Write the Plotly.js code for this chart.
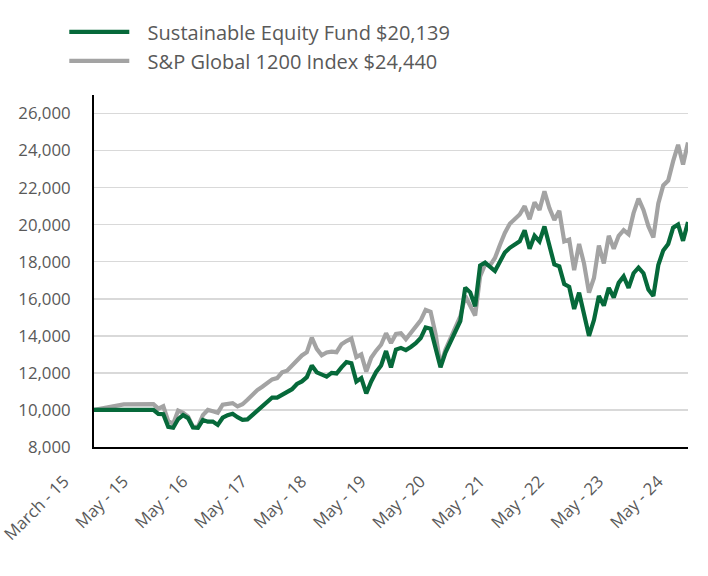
<!DOCTYPE html>
<html>
<head>
<meta charset="utf-8">
<script src="https://cdn.plot.ly/plotly-3.0.1.min.js"></script>
<style>html,body{margin:0;padding:0;background:#fff;}#chart{width:708px;height:576px;}</style>
</head>
<body>
<div id="chart"></div>
<script>
// Axis tick labels (fiscal year ends, plus inception)
const tickLabels = ["March - 15", "May - 15", "May - 16", "May - 17", "May - 18", "May - 19",
  "May - 20", "May - 21", "May - 22", "May - 23", "May - 24"];

// Position slots on the category-like x axis: inception, one interim point, then monthly May-15 .. May-24
const earlySlots = [0, 6];
const monthlyStartSlot = 12;

// Sustainable Equity Fund (growth of $10,000)
const fundEarly = [10000, 9980];
const fundMonthly = [
  10000, 9790, 9770, 9090, 9040, 9510, 9720, 9560, 9050, 9030, 9460, 9370,
  9370, 9190, 9580, 9720, 9790, 9610, 9470, 9490, 9720, 10020, 10250, 10460,
  10670, 10670, 10840, 10950, 11120, 11400, 11540, 11770, 12400, 12030, 11900, 11800,
  12000, 11970, 12300, 12580, 12520, 11530, 11720, 10890, 11540, 12050, 12400, 13180,
  12300, 13260, 13350, 13230, 13400, 13600, 13880, 14450, 14380, 13300, 12300, 13100,
  13700, 14250, 14800, 16600, 16350, 15600, 17800, 17950, 17750, 17500, 18000, 18500,
  18750, 18900, 19100, 19700, 18700, 19400, 19100, 19900, 18850, 17850, 17750, 16800,
  16650, 15450, 16330, 15100, 14000, 14850, 16150, 15630, 16590, 16070, 16860, 17210,
  16590, 17380, 17680, 17380, 16500, 16150, 17820, 18610, 18960, 19840, 20010, 19130,
  20139
];

// S&P Global 1200 Index (growth of $10,000)
const indexEarly = [10000, 10300];
const indexMonthly = [
  10310, 10070, 10200, 9400, 9250, 9970, 9850, 9640, 9090, 9090, 9720, 10000,
  9930, 9850, 10280, 10310, 10370, 10190, 10310, 10550, 10810, 11070, 11250, 11420,
  11650, 11720, 12030, 12120, 12420, 12700, 12940, 13120, 13900, 13300, 12950, 13100,
  13150, 13120, 13550, 13720, 13850, 12850, 13000, 12070, 12820, 13200, 13520, 14140,
  13610, 14100, 14140, 13820, 14150, 14450, 14840, 15400, 15300, 14100, 12400, 13250,
  13850, 14500, 15050, 16150, 15600, 15100, 17200, 17850, 17800, 18200, 18900, 19550,
  20050, 20300, 20550, 21000, 20300, 21200, 20800, 21800, 20900, 20250, 20750, 19100,
  19200, 17550, 18960, 17900, 16330, 17120, 18870, 17910, 19400, 18700, 19400, 19710,
  19490, 20620, 21410, 20800, 19920, 19310, 21150, 22120, 22380, 23430, 24310, 23250,
  24440
];

const fundName = "Sustainable Equity Fund $20,139";
const indexName = "S&P Global 1200 Index $24,440";

const xSlots = earlySlots.concat(fundMonthly.map((_, i) => monthlyStartSlot + i));
const tickVals = tickLabels.map((_, i) => i * 12);

const textColor = "#595959";
const fontFamily = "'Open Sans', 'Noto Sans', sans-serif";
const legendPad = "\u2002\u2009"; // small gap between legend line and its text

const traces = [
  {
    x: xSlots, y: indexEarly.concat(indexMonthly), name: legendPad + indexName,
    type: "scatter", mode: "lines",
    line: { color: "#a3a3a3", width: 4.2, shape: "linear" }
  },
  {
    x: xSlots, y: fundEarly.concat(fundMonthly), name: legendPad + fundName,
    type: "scatter", mode: "lines",
    line: { color: "#06693a", width: 4.2, shape: "linear" }
  }
];

const layout = {
  width: 708, height: 576,
  margin: { l: 94, r: 20, t: 85, b: 129 },
  paper_bgcolor: "#ffffff", plot_bgcolor: "#ffffff",
  font: { family: fontFamily, color: textColor, size: 16 },
  showlegend: true,
  legend: {
    x: -0.05, y: 1.235, xanchor: "left", yanchor: "top",
    orientation: "v", traceorder: "reversed",
    font: { family: fontFamily, size: 20, color: textColor },
    itemwidth: 60, bgcolor: "rgba(0,0,0,0)", tracegroupgap: 0
  },
  xaxis: {
    range: [0, 120], showgrid: false, zeroline: false,
    showline: true, linecolor: "#000000", linewidth: 2,
    tickmode: "array", tickvals: tickVals, ticktext: tickLabels,
    tickangle: -45, ticks: "",
    ticklabelshift: -30, ticklabelstandoff: 16,
    ticklabeloverflow: "allow",
    tickfont: { family: fontFamily, size: 16.8, color: textColor },
    fixedrange: true
  },
  yaxis: {
    range: [8000, 27000], zeroline: false,
    tickmode: "array", tickvals: [8000, 10000, 12000, 14000, 16000, 18000, 20000, 22000, 24000, 26000],
    tickformat: ",", ticks: "",
    showgrid: true, gridcolor: "#d9d9d9", gridwidth: 1.5,
    showline: true, linecolor: "#000000", linewidth: 2,
    ticklabelstandoff: 18,
    tickfont: { family: fontFamily, size: 16.8, color: textColor },
    fixedrange: true
  }
};

Plotly.newPlot("chart", traces, layout, { staticPlot: true, displayModeBar: false });
</script>
</body>
</html>
